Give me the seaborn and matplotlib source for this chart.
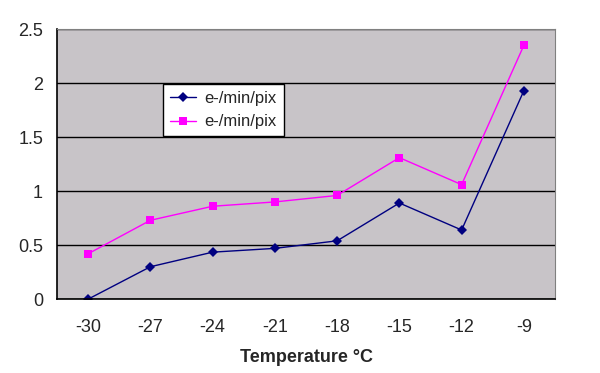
import pandas as pd
import matplotlib
matplotlib.use("Agg")
import matplotlib.pyplot as plt
import seaborn as sns

# data
temps = [-30, -27, -24, -21, -18, -15, -12, -9]
series_blue = [0.0, 0.30, 0.435, 0.47, 0.54, 0.89, 0.64, 1.93]
series_pink = [0.42, 0.73, 0.86, 0.90, 0.96, 1.31, 1.06, 2.35]
series_names = ["e-/min/pix", "e-/min/pix"]

sns.set_style("white")
plt.rcParams["font.family"] = ["Liberation Sans", "DejaVu Sans"]

fig = plt.figure(figsize=(6, 3.73), dpi=100)
ax = fig.add_axes([0.095, 0.198, 0.83, 0.724])
ax.set_facecolor("#c8c4c8")

sns.lineplot(x=temps, y=series_blue, ax=ax, color="#000080", marker="D",
             markersize=5, markeredgewidth=0, linewidth=1, label=series_names[0])
sns.lineplot(x=temps, y=series_pink, ax=ax, color="#ff00ff", marker="s",
             markersize=6, markeredgewidth=0, linewidth=1, label=series_names[1])

ax.set_ylim(0, 2.5)
ax.set_yticks([0, 0.5, 1, 1.5, 2, 2.5])
ax.set_yticklabels(["0", "0.5", "1", "1.5", "2", "2.5"])
ax.set_xlim(temps[0] - 1.5, temps[-1] + 1.5)
ax.set_xticks([t - 1.5 for t in temps] + [temps[-1] + 1.5])
ax.set_xticklabels([])
ax.set_xticks(temps, minor=True)
ax.set_xticklabels([str(t) for t in temps], minor=True)
ax.tick_params(axis="x", which="major", direction="out", length=5, width=1, color="black")
ax.tick_params(axis="x", which="minor", length=0, pad=14, labelsize=13)
ax.tick_params(axis="y", direction="out", length=5, width=1, color="black", labelsize=13, pad=5)

ax.yaxis.grid(True, color="black", linewidth=1)
ax.set_axisbelow(True)
for s in ["top", "right"]:
    ax.spines[s].set_color("#808080")
for s in ["left", "bottom"]:
    ax.spines[s].set_color("black")
    ax.spines[s].set_linewidth(1.2)

ax.set_xlabel("Temperature °C", fontsize=13, fontweight="bold", labelpad=10)
ax.set_ylabel("")

leg = ax.legend(loc="upper left", bbox_to_anchor=(0.213, 0.795), frameon=True,
                fancybox=False, edgecolor="black", fontsize=12, handlelength=1.6,
                borderpad=0.4, labelspacing=0.5, handletextpad=0.5, borderaxespad=0)
leg.get_frame().set_facecolor("white")
leg.get_frame().set_alpha(1)
leg.get_frame().set_linewidth(1)

fig.savefig("out.png", dpi=100)
